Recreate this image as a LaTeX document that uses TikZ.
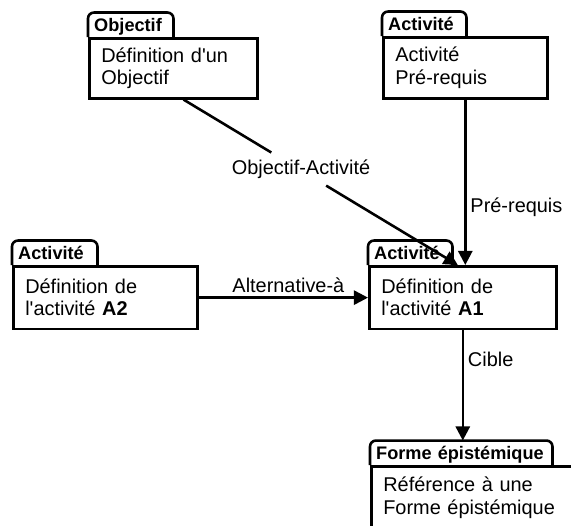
\documentclass[tikz,border=0pt]{standalone}
\usepackage{fontspec}
\setmainfont{Liberation Sans}
\usetikzlibrary{arrows.meta,calc}

\tikzset{
  body/.style={draw, line width=2.2pt, fill=white, anchor=north west, align=left,
    inner xsep=0.36cm, inner ysep=0pt, minimum height=1.88cm,
    font=\fontsize{17}{19}\selectfont},
  tab/.style={anchor=south west, align=left, inner xsep=0.18cm, inner ysep=0pt,
    minimum height=0.72cm, text height=0.42cm, text depth=0pt,
    font=\bfseries\fontsize{15.5}{15.5}\selectfont},
  tabline/.style={line width=2.2pt, rounded corners=0.18cm},
  link/.style={line width=2.2pt},
  arrow/.style={link, -{Triangle[length=12pt,width=12pt]}},
  lbl/.style={font=\fontsize{17}{19}\selectfont}
}

\begin{document}
\begin{tikzpicture}[x=0.03cm,y=-0.03cm]
\useasboundingbox (0,0) rectangle (571,525);
\clip (0,0) rectangle (571,525);

% classes
\node[body, text width=4.32cm, minimum height=1.8cm] (obj) at (88,37) {D\'efinition d\textquotesingle un\\Objectif};
\node[tab, text width=2.19cm] (objt) at (obj.north west) {Objectif};

\node[body, text width=4.2cm, minimum height=1.83cm] (pre) at (382,36) {Activit\'e\\Pr\'e-requis};
\node[tab, text width=2.16cm] (pret) at (pre.north west) {Activit\'e};

\node[body, text width=4.8cm] (a2) at (12,265) {D\'efinition de\\l\textquotesingle activit\'e \textbf{A2}};
\node[tab, text width=2.19cm] (a2t) at (a2.north west) {Activit\'e};

\node[body, text width=4.89cm] (a1) at (368,265) {D\'efinition de\\l\textquotesingle activit\'e \textbf{A1}};
\node[tab, text width=2.16cm] (a1t) at (a1.north west) {Activit\'e};

\node[body, text width=5.73cm] (forme) at (370,465) {R\'ef\'erence \`a une\\Forme \'epist\'emique};
\node[tab, text width=5.1cm] (formet) at (forme.north west) {Forme \'epist\'emique};

\foreach \t in {objt,pret,a2t,a1t,formet} {
\draw[tabline] (\t.south west) -- (\t.north west) -- (\t.north east) -- (\t.south east);
}

% associations
\coordinate (objout) at ($(obj.south west)!0.56!(obj.south east)$);
\coordinate (a1in) at ($(a1.north)+(-5,0)$);
\draw[link] (objout) -- ($(objout)!0.32!(a1in)$);
\draw[arrow] ($(objout)!0.52!(a1in)$) -- (a1in);
\node[lbl] (oalbl) at (301,169) {Objectif-Activit\'e};

\draw[arrow] (pre.south) -- (pre.south |- a1.north)
  node[lbl, right, pos=0.65] (prelbl) {Pr\'e-requis};

\draw[arrow] (a2) -- (a1)
  node[lbl, above, pos=0.53] (altlbl) {Alternative-\`a};

\draw[arrow] (a1.south) -- (a1.south |- formet.north)
  node[lbl, right, pos=0.26] (ciblbl) {Cible};
\end{tikzpicture}
\end{document}
